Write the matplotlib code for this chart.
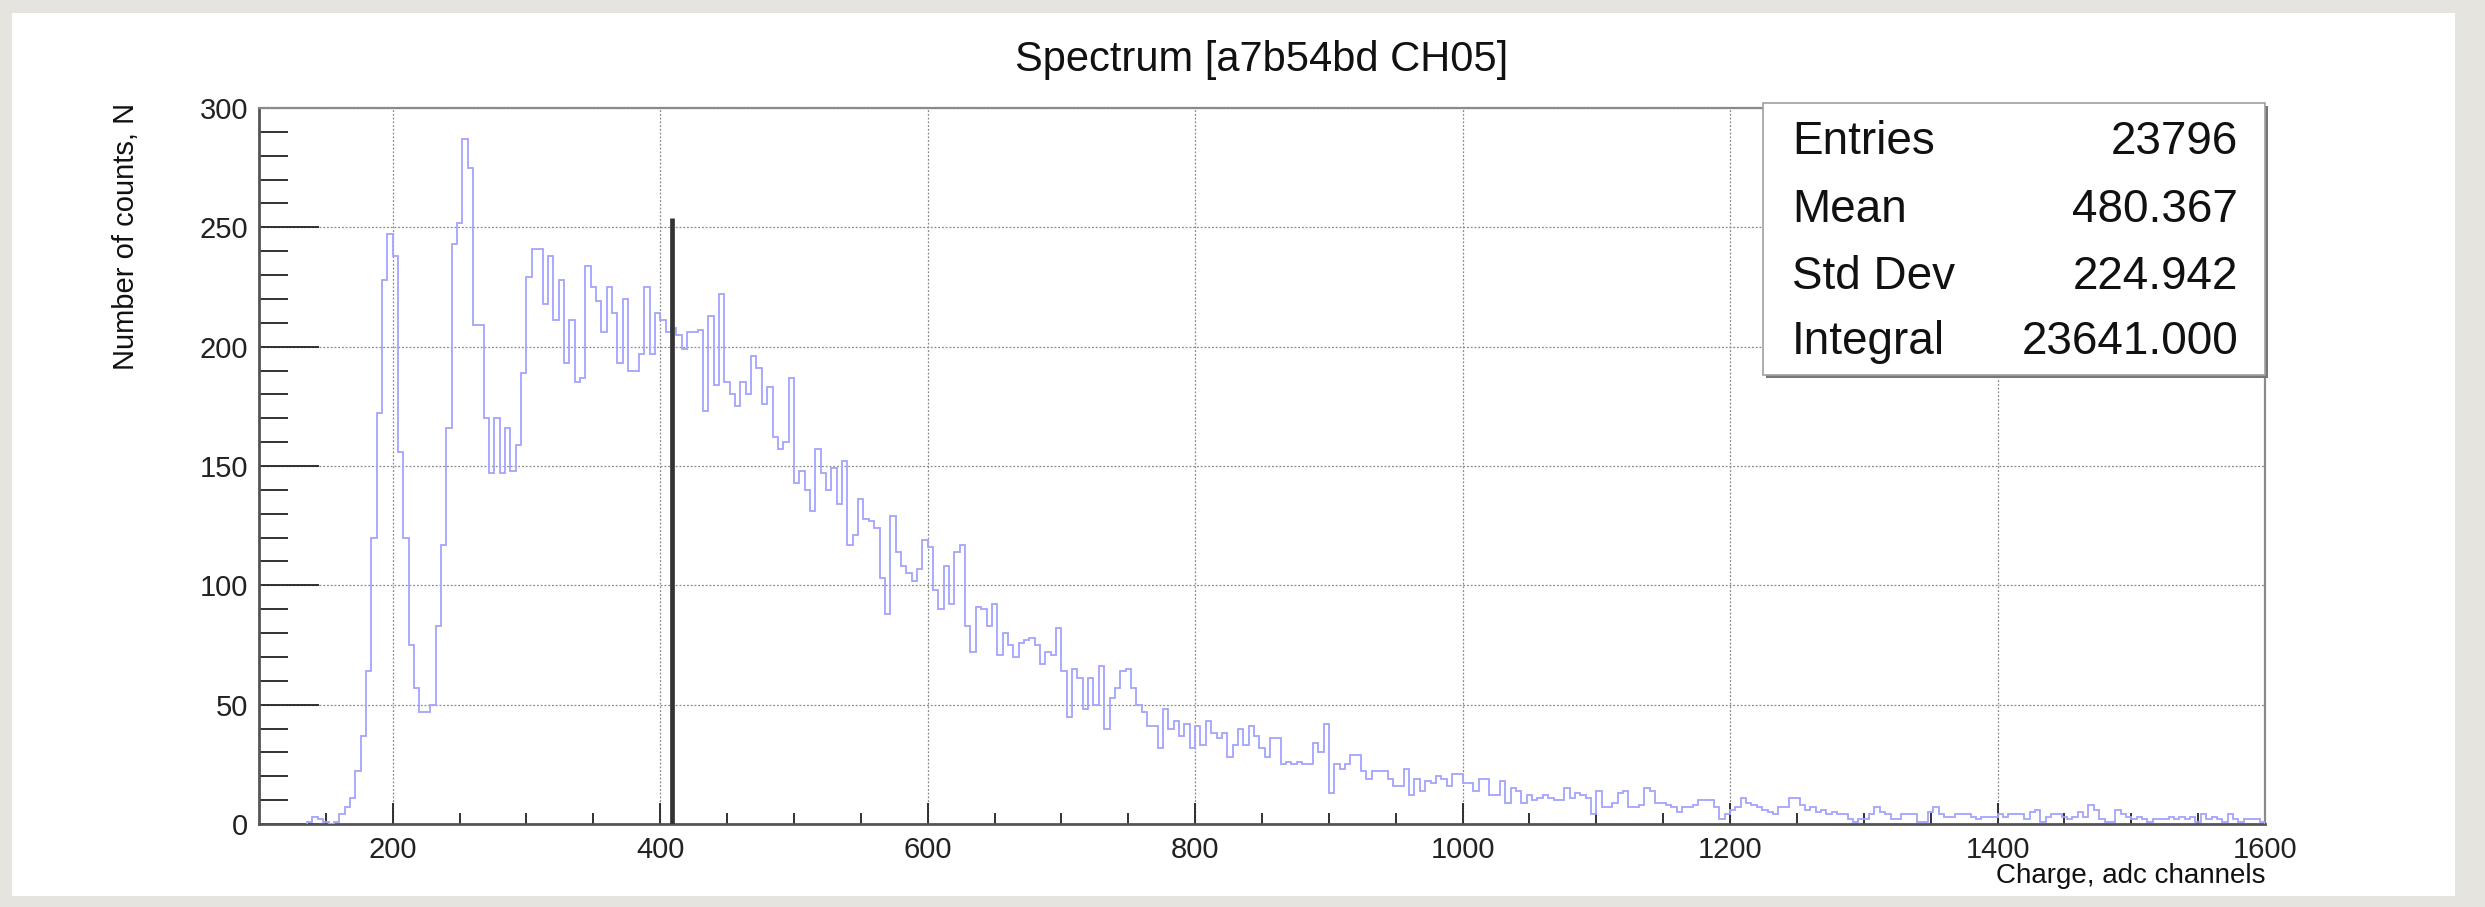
import numpy as np
import matplotlib
matplotlib.use("Agg")
import matplotlib.pyplot as plt
from matplotlib.patches import Rectangle

# ---------------- data ----------------
bin_first_edge = 136
bin_width = 4
counts = [
    1, 3, 2, 1, 0, 1, 4, 7, 11, 22, 37, 64,
    120, 172, 228, 247, 238, 156, 120, 75, 57, 47, 47, 50, 83, 117, 166, 243, 252, 287, 275, 209,
    209, 170, 147, 170, 147, 166, 148, 159, 189, 229,
    241, 241, 218, 238, 211, 228, 193, 211, 185, 187, 234, 225, 219, 206, 225, 214, 193, 220, 190, 190,
    197, 225, 197, 214, 211,
    206, 208, 205, 199, 206, 206, 207, 173, 213, 184, 222, 185, 180, 175, 185,
    180, 196, 191, 176, 183, 162, 157, 160, 187, 143, 148, 140, 131, 157, 147, 140, 149, 134, 152, 117,
    121, 136, 128, 127, 124, 103, 88, 129, 114, 108, 105, 102, 107, 119, 116, 98, 90, 108, 92, 114,
    117, 83, 72, 91, 90, 83, 92,
    71, 80, 75, 70, 76, 77, 78, 75, 67, 72, 71, 82, 64, 45, 65, 61, 48, 61, 50, 66, 40, 53, 57, 64, 65,
    57, 50, 47, 41, 41, 32, 48, 40, 43, 37, 42, 32, 41, 33, 43, 38, 36, 38, 28, 33, 40, 33, 41, 37, 32,
    28, 36, 36, 25, 26, 25, 26, 25, 25, 34, 30, 42, 13,
    25, 23, 25, 29, 29, 22, 19, 22, 22, 22, 19, 16, 16, 23, 12, 19, 14, 18, 17, 20, 19, 16, 21, 21, 17,
    17, 14, 19, 19, 12, 12, 18, 9, 15, 14, 9, 12, 10, 11, 12, 11, 10, 10, 15, 11, 13, 12, 11, 4, 14,
    7, 7, 9, 13, 14, 7, 7, 8, 15, 14, 9, 9, 8, 7, 5, 7, 7, 8, 10, 10, 10, 7, 2, 4, 6, 7, 11, 9, 8, 7,
    6, 5, 4, 7, 7, 11,
    11, 8, 6, 7, 5, 6, 4, 5, 4, 4, 2, 1, 2, 2, 4, 7, 5, 4, 2, 2, 4, 4, 4, 1, 1, 5, 7, 4, 3, 3, 4, 4, 4,
    3, 2, 3, 3, 3, 4, 3, 4, 4, 4, 2, 5, 6, 1, 3, 4, 4, 3, 2, 3, 5, 3, 8, 6, 2, 1, 1, 6, 4, 3, 2, 3, 2,
    1, 2, 2, 2, 3, 2, 3, 2, 3, 1, 4, 2, 3, 2, 1, 4, 2, 1, 2, 2, 2, 1,
]
marker_x = 408.5
marker_top = 254

title = "Spectrum [a7b54bd CH05]"
xlabel = "Charge, adc channels"
ylabel = "Number of counts, N"
stats_labels = ["Entries", "Mean", "Std Dev", "Integral"]
stats_values = ["23796", "480.367", "224.942", "23641.000"]

x_range = (100, 1600)
y_range = (0, 300)
x_major = [200, 400, 600, 800, 1000, 1200, 1400, 1600]
y_major = [0, 50, 100, 150, 200, 250, 300]

# ---------------- figure ----------------
W, H = 2485, 907
DPI = 100
plt.rcParams["font.family"] = ["Liberation Sans", "DejaVu Sans"]

fig = plt.figure(figsize=(W / DPI, H / DPI), dpi=DPI)
fig.patch.set_facecolor("#e6e4df")

def fx(px):
    return px / W

def fy(py):
    return 1 - py / H

# white canvas
fig.patches.append(Rectangle((fx(12), fy(896)), fx(2455) - fx(12), fy(13) - fy(896),
                             transform=fig.transFigure, facecolor="white", edgecolor="none", zorder=-5))

L, R, T, B = 259, 2265, 108, 824
ax = fig.add_axes([fx(L), fy(B), fx(R) - fx(L), fy(T) - fy(B)])
ax.set_zorder(1)
ax.set_facecolor("white")

edges = bin_first_edge + bin_width * np.arange(len(counts) + 1)
ax.stairs(counts, edges, color="#a4a4ff", linewidth=1.3, zorder=3)
ax.vlines(marker_x, 0, marker_top, color="#333333", linewidth=3.4, zorder=4)

ax.set_xlim(*x_range)
ax.set_ylim(*y_range)
ax.set_xticks(x_major)
ax.set_xticks(np.arange(150, 1600, 50), minor=True)
ax.set_yticks(y_major)
ax.set_yticks(np.arange(0, 301, 10), minor=True)
ax.tick_params(axis="both", which="both", direction="in", labelsize=21, colors="#222222")
ax.tick_params(axis="x", which="major", length=15, width=1.3, pad=9)
ax.tick_params(axis="x", which="minor", length=8, width=1.3)
ax.tick_params(axis="y", which="major", length=43, width=1.3, pad=8)
ax.tick_params(axis="y", which="minor", length=21, width=1.3)
ax.grid(True, which="major", color="#8a8a8a", linestyle=(0, (1.5, 1.5)), linewidth=0.9)
ax.set_axisbelow(True)

for side in ["left", "bottom"]:
    ax.spines[side].set_color("#555555")
    ax.spines[side].set_linewidth(2.0)
for side in ["top", "right"]:
    ax.spines[side].set_color("#8a8a8a")
    ax.spines[side].set_linewidth(1.6)

fig.text(fx((L + R) / 2), fy(60), title, fontsize=30, ha="center", va="center", color="#111111")
fig.text(fx(126), fy(103), ylabel, fontsize=21, rotation=90, ha="center", va="top", color="#111111")
fig.text(fx(R), fy(876), xlabel, fontsize=20, ha="right", va="center", color="#111111")

# stats box with shadow (drawn above the axes)
bx0, bx1, by0, by1 = 1763, 2265, 103, 375
fig.patches.append(Rectangle((fx(bx0 + 3), fy(by1 + 3)), fx(bx1) - fx(bx0), fy(by0) - fy(by1),
                             transform=fig.transFigure, facecolor="#777777", edgecolor="none", zorder=5))
fig.patches.append(Rectangle((fx(bx0), fy(by1)), fx(bx1) - fx(bx0), fy(by0) - fy(by1),
                             transform=fig.transFigure, facecolor="white", edgecolor="#a0a0a0",
                             linewidth=1.2, zorder=6))
baselines = [154, 222, 289, 354]
for lab, val, yb in zip(stats_labels, stats_values, baselines):
    fig.text(fx(1792), fy(yb), lab, fontsize=33, ha="left", va="baseline", color="#111111", zorder=7)
    fig.text(fx(2238), fy(yb), val, fontsize=33, ha="right", va="baseline", color="#111111", zorder=7)

fig.savefig("out.png", dpi=DPI, facecolor=fig.get_facecolor())
